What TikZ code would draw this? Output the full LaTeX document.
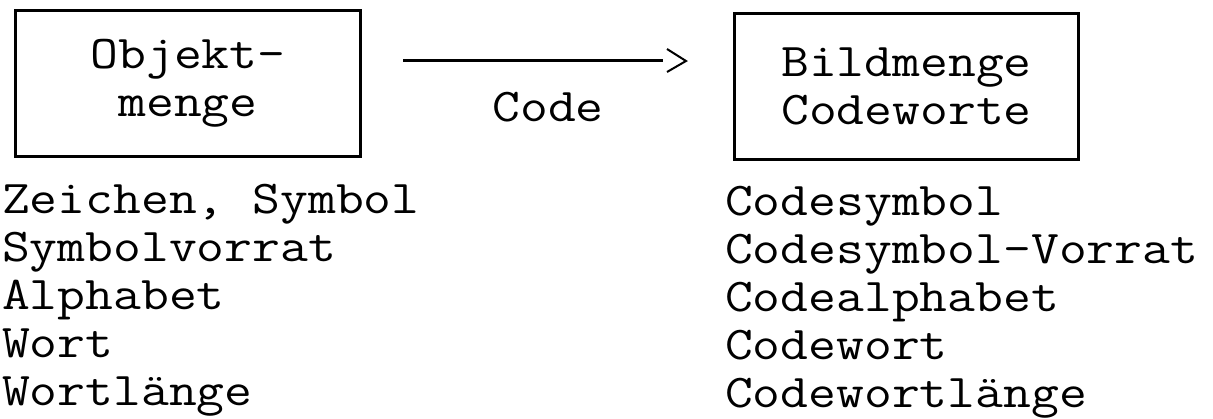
\documentclass[tikz,border=0pt]{standalone}
\usepackage{fontspec}
\setmonofont{Latin Modern Mono}[FakeStretch=1.15]
\newcommand\monotext{\fontsize{47}{48.2}\ttfamily}
\tikzset{
  x=1pt, y=-1pt,
  every node/.style={font=\monotext, inner sep=0pt, outer sep=0pt},
  setbox/.style={draw, line width=2.8pt, align=center},
  termlist/.style={anchor=base west, align=left},
  codeline/.style={line width=3pt},
  codetip/.style={line width=2pt, line join=miter},
}
\begin{document}
\begin{tikzpicture}
\useasboundingbox (0,0) rectangle (1213,419);

% the two sets
\node[setbox, minimum width=345pt, minimum height=146pt] (obj) at (188,83.5) {Objekt-\\menge};
\node[setbox, minimum width=344pt, minimum height=146pt] (img) at (906.5,86.5) {Bildmenge\\Codeworte};

% the mapping between them
\coordinate (codeA) at (403,61);
\coordinate (codeB) at (663,61);
\draw[codeline] (codeA) -- (codeB);
\draw[codetip] (667,49) -- (686,61) -- (667,72);
\node[anchor=base] (code) at (548,122) {Code};

% terms on either side (anchored at the baseline of the last line)
\node[termlist] (left) at (2,406) {Zeichen, Symbol\\Symbolvorrat\\Alphabet\\Wort\\Wortlänge};
\node[termlist] (right) at (725,408) {Codesymbol\\Codesymbol-Vorrat\\Codealphabet\\Codewort\\Codewortlänge};
\end{tikzpicture}
\end{document}
